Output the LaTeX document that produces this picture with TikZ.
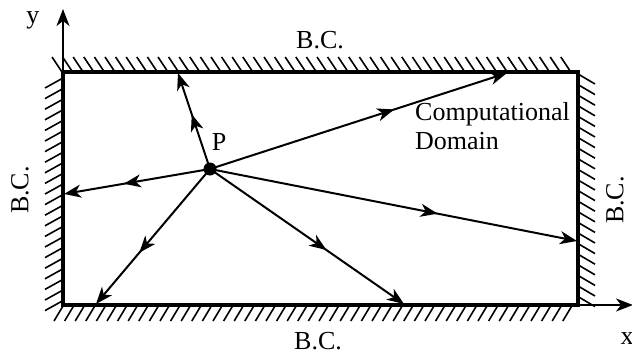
\documentclass[tikz,border=0pt]{standalone}
\usepackage{fontspec}
\setmainfont{Liberation Serif}
\usetikzlibrary{arrows.meta,decorations.markings}
\tikzset{
  tip/.style={-{Stealth[length=17pt,width=13pt,inset=5pt]}},
  ray/.style={line width=2pt, tip, postaction={decorate},
    decoration={markings, mark=at position #1 with {\arrow{Stealth[length=17pt,width=13pt,inset=5pt]}}}},
  hatch/.style={line width=1.6pt},
  wall/.style={line width=3.8pt, line cap=rect},
  axis/.style={line width=1.6pt, -{Stealth[length=17pt,width=13pt,inset=5pt]}},
  lbl/.style={font=\fontsize{26}{29}\selectfont, inner sep=0pt},
}
\begin{document}
\begin{tikzpicture}[x=1pt,y=-1pt]
\useasboundingbox (0,0) rectangle (632,356);
% hatching
\foreach \x in {52,62.6,...,570} \draw[hatch] (\x,57) -- (\x+10,72);
\foreach \x in {63,73.6,...,580} \draw[hatch] (\x,306) -- (\x-9,321);
\foreach \y in {78,88.6,...,308} \draw[hatch] (63,\y) -- (45,\y+10);
\foreach \y in {74,84.6,...,306} \draw[hatch] (578,\y) -- (595,\y+10);
% axes
\coordinate (O) at (63,305);
\coordinate (Y) at (63,9);
\coordinate (X) at (633,305);
\draw[axis] (O) -- (Y);
\draw[axis] (O) -- (X);
\node[lbl] (ylab) at (33,20) {y};
\node[lbl] (xlab) at (627,339) {x};
% domain
\coordinate (TL) at (63,72);
\coordinate (BR) at (578,305);
\draw[wall] (TL) rectangle (BR);
% point P
\node[circle, fill, inner sep=0pt, minimum size=13pt] (P) at (210,169) {};
\node[lbl] (Plab) at (219,142) {P};
% ray end points
\coordinate (e1) at (178,73);
\coordinate (e2) at (507,73);
\coordinate (e3) at (64,194);
\coordinate (e4) at (96,304);
\coordinate (e5) at (404,304);
\coordinate (e6) at (577,241);
\draw[ray=0.57] (P.center) -- (e1);
\draw[ray=0.62] (P.center) -- (e2);
\draw[ray=0.59] (P.center) -- (e3);
\draw[ray=0.62] (P.center) -- (e4);
\draw[ray=0.60] (P.center) -- (e5);
\draw[ray=0.62] (P.center) -- (e6);
% labels
\node[lbl] (bcT) at (320,40) {B.C.};
\node[lbl] (bcB) at (318,341) {B.C.};
\node[lbl, rotate=90] (bcL) at (20,190) {B.C.};
\node[lbl, rotate=90] (bcR) at (615,200) {B.C.};
\node[lbl, align=left, anchor=north west] (dom) at (415,102) {Computational\\Domain};
\end{tikzpicture}
\end{document}
